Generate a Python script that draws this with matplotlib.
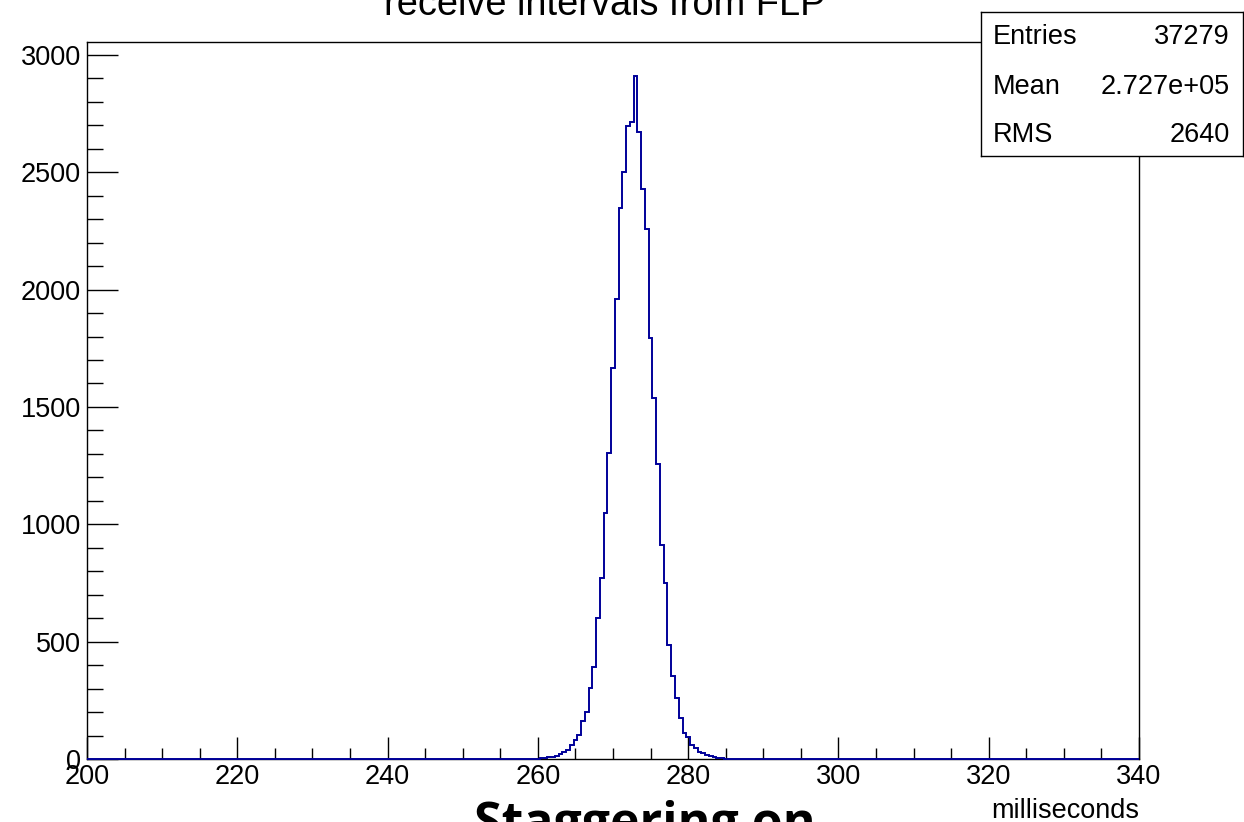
import matplotlib
matplotlib.use("Agg")
import matplotlib.pyplot as plt
from matplotlib.ticker import MultipleLocator

# ---- data ----
x_range = [200.0, 340.0]
bin_width = 0.5
first_edge = 260.25
counts = [4, 6, 8, 9, 12, 21, 31, 38, 60, 81,
          103, 160, 202, 302, 394, 600, 771, 1047, 1305, 1668,
          1962, 2347, 2500, 2697, 2714, 2910, 2672, 2430, 2257, 1794,
          1540, 1256, 910, 751, 487, 355, 259, 174, 110, 92,
          60, 46, 31, 24, 16, 12, 8, 6, 4]
y_max = 3055
x_ticks_major = [200, 220, 240, 260, 280, 300, 320, 340]
y_ticks_major = [0, 500, 1000, 1500, 2000, 2500, 3000]
title = "receive intervals from FLP"
x_title = "milliseconds"
stat_names = ["Entries", "Mean", "RMS"]
stat_values = ["37279", "2.727e+05", "2640"]
overlay_text = "Staggering on"

W, H = 1244, 822
fig = plt.figure(figsize=(W / 100, H / 100), dpi=100)
fig.patch.set_facecolor("white")

font = ["Liberation Sans", "DejaVu Sans"]
label_size = 19.5

ax = fig.add_axes([87 / W, 1 - 759 / H, (1139 - 87) / W, (759 - 42) / H])

edges = [x_range[0]] + [first_edge + bin_width * i for i in range(len(counts) + 1)] + [x_range[1]]
values = [0] + counts + [0]
ax.stairs(values, edges, color="#000099", linewidth=1.4, baseline=None,
          zorder=3, clip_on=False)

ax.set_xlim(*x_range)
ax.set_ylim(0, y_max)
ax.set_xticks(x_ticks_major)
ax.set_yticks(y_ticks_major)
ax.xaxis.set_minor_locator(MultipleLocator(5))
ax.yaxis.set_minor_locator(MultipleLocator(100))
ax.tick_params(axis="both", which="both", direction="in", width=1.0, colors="black",
               top=False, right=False)
ax.tick_params(axis="y", which="major", length=22.3, pad=4.3, labelsize=label_size)
ax.tick_params(axis="y", which="minor", length=11.5)
ax.tick_params(axis="x", which="major", length=15.8, pad=3.5, labelsize=label_size)
ax.tick_params(axis="x", which="minor", length=7.9)
for lab in ax.get_xticklabels() + ax.get_yticklabels():
    lab.set_family(font)
for sp in ax.spines.values():
    sp.set_linewidth(1.0)
    sp.set_color("black")

# title (cut off at the top in the reference)
fig.text(605 / W, 1 - 15 / H, title, ha="center", va="baseline",
         fontsize=27.4, family=font)

# axis title
fig.text(1139 / W, 1 - 818 / H, x_title, ha="right", va="baseline",
         fontsize=label_size, family=font)

# stats box
sb = fig.add_axes([980.7 / W, 1 - 155.7 / H, (1243 - 980.7) / W, (155.7 - 12.3) / H])
sb.set_xticks([])
sb.set_yticks([])
sb.set_facecolor("white")
for sp in sb.spines.values():
    sp.set_linewidth(1.0)
    sp.set_color("black")
sb.set_xlim(0, 1)
sb.set_ylim(0, 1)
row_y = [37, 87, 134.5]
for name, val, yy in zip(stat_names, stat_values, row_y):
    fy = 1 - (yy - 12.3) / (155.7 - 12.3)
    sb.text((993 - 980.7) / (1243 - 980.7), fy, name, ha="left", va="center",
            fontsize=19.5, family=font)
    sb.text((1230 - 980.7) / (1243 - 980.7), fy, val, ha="right", va="center",
            fontsize=19.5, family=font)

# overlaid slide text at the bottom (cut off)
fig.text(645 / W, 1 - 838 / H, overlay_text, ha="center", va="baseline",
         fontsize=36, fontweight="bold", family=["Open Sans", "DejaVu Sans"])

fig.savefig("out.png", dpi=100)
